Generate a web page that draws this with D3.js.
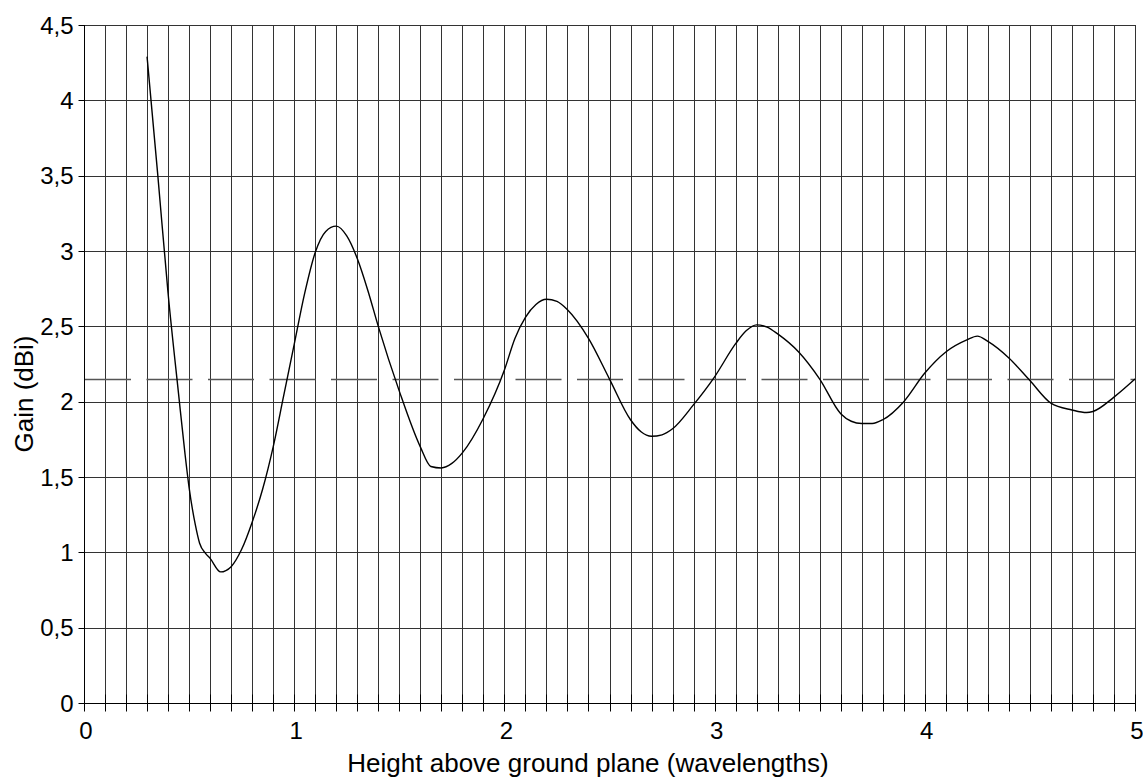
<!DOCTYPE html>
<html>
<head>
<meta charset="utf-8">
<script src="https://cdn.jsdelivr.net/npm/d3@7"></script>
<style>
html,body{margin:0;padding:0;background:#fff;}
svg{display:block;}
text{font-family:"Liberation Sans",Arial,sans-serif;fill:#000;}
</style>
</head>
<body>
<svg id="chart" width="1143" height="778"></svg>
<script>
// Data: height above ground plane (wavelengths) vs gain (dBi)
const heights = [0.30,0.35,0.40,0.45,0.48,0.50,0.53,0.55,0.58,0.60,0.65,0.70,0.75,0.80,0.85,0.90,0.95,1.00,1.05,1.10,1.15,1.20,1.25,1.30,1.35,1.40,1.50,1.60,1.65,1.70,1.75,1.80,1.90,2.00,2.05,2.10,2.15,2.20,2.25,2.30,2.40,2.50,2.60,2.65,2.70,2.75,2.80,2.90,3.00,3.10,3.15,3.20,3.25,3.30,3.40,3.50,3.60,3.65,3.70,3.75,3.80,3.90,4.00,4.10,4.20,4.25,4.30,4.40,4.50,4.60,4.70,4.77,4.80,4.90,5.00];
const gains   = [4.29,3.52,2.72,2.05,1.66,1.43,1.18,1.06,0.99,0.96,0.87,0.905,1.02,1.20,1.42,1.70,2.04,2.38,2.72,2.99,3.13,3.165,3.10,2.95,2.74,2.50,2.07,1.70,1.57,1.56,1.59,1.66,1.89,2.21,2.42,2.56,2.645,2.68,2.665,2.61,2.42,2.15,1.88,1.80,1.77,1.78,1.82,1.98,2.165,2.385,2.47,2.51,2.495,2.45,2.33,2.15,1.92,1.87,1.855,1.855,1.88,2.00,2.19,2.33,2.41,2.435,2.40,2.29,2.14,1.99,1.945,1.928,1.935,2.03,2.15];
const referenceGain = 2.15; // dashed reference line (dipole)
const xMajorTicks = [0,1,2,3,4,5];
const xMinorTicks = d3.range(0, 51).map(i => i / 10);
const yTicks = [0,0.5,1,1.5,2,2.5,3,3.5,4,4.5];
const xTitle = "Height above ground plane (wavelengths)";
const yTitle = "Gain (dBi)";

const svg = d3.select("#chart");
const L = 84, R = 1135, T = 25, B = 703;
const x = d3.scaleLinear().domain([0,5]).range([L,R]);
const y = d3.scaleLinear().domain([0,4.5]).range([B,T]);
const locale = d3.formatLocale({decimal:",", thousands:".", grouping:[3], currency:["","€"]});
const fmt = v => locale.format("~g")(v);

// vertical grid lines every 0.1
svg.append("g").selectAll("line").data(xMinorTicks.filter(d => d > 0)).join("line")
  .attr("x1", d => Math.round(x(d)) + 0.5).attr("x2", d => Math.round(x(d)) + 0.5)
  .attr("y1", T).attr("y2", B)
  .attr("stroke", "#333").attr("stroke-width", 1);

// horizontal grid lines
svg.append("g").selectAll("line").data(yTicks.filter(d => d > 0)).join("line")
  .attr("x1", L).attr("x2", R)
  .attr("y1", d => Math.round(y(d)) + 0.5).attr("y2", d => Math.round(y(d)) + 0.5)
  .attr("stroke", "#333").attr("stroke-width", 1);

// dashed reference line
svg.append("line")
  .attr("x1", L + 1).attr("x2", R)
  .attr("y1", Math.round(y(referenceGain)) + 0.5).attr("y2", Math.round(y(referenceGain)) + 0.5)
  .attr("stroke", "#555").attr("stroke-width", 1.3)
  .attr("stroke-dasharray", "46,15.5");

// x axis with minor ticks crossing the axis
const xAxisG = svg.append("g").attr("transform", `translate(0,${Math.round(B)+0.5})`);
xAxisG.append("line").attr("x1", L).attr("x2", R).attr("stroke", "#000");
xAxisG.selectAll("line.t").data(xMinorTicks).join("line").attr("class","t")
  .attr("x1", d => Math.round(x(d)) + 0.5).attr("x2", d => Math.round(x(d)) + 0.5)
  .attr("y1", -9).attr("y2", 8).attr("stroke", "#000");
xAxisG.selectAll("text").data(xMajorTicks).join("text")
  .attr("x", d => x(d) + 2).attr("y", 35)
  .attr("text-anchor", "middle").attr("font-size", 24)
  .text(d => fmt(d));

// y axis
const yAxisG = svg.append("g").attr("transform", `translate(${Math.round(L)+0.5},0)`);
yAxisG.append("line").attr("y1", T).attr("y2", B).attr("stroke", "#000");
yAxisG.selectAll("line.t").data(yTicks).join("line").attr("class","t")
  .attr("x1", -6).attr("x2", 0)
  .attr("y1", d => Math.round(y(d)) + 0.5).attr("y2", d => Math.round(y(d)) + 0.5)
  .attr("stroke", "#000");
yAxisG.selectAll("text").data(yTicks).join("text")
  .attr("x", -11).attr("y", d => y(d)).attr("dy", "0.36em")
  .attr("text-anchor", "end").attr("font-size", 24)
  .text(d => fmt(d));

// curve
const pts = heights.map((h,i) => [h, gains[i]]);
const line = d3.line().x(d => x(d[0])).y(d => y(d[1])).curve(d3.curveMonotoneX);
svg.append("path").datum(pts)
  .attr("d", line).attr("fill", "none")
  .attr("stroke", "#000").attr("stroke-width", 1.4);

// titles
svg.append("text").attr("x", 588).attr("y", 772)
  .attr("text-anchor", "middle").attr("font-size", 26).text(xTitle);
svg.append("text").attr("transform", "translate(33,394) rotate(-90)")
  .attr("text-anchor", "middle").attr("font-size", 26).text(yTitle);
</script>
</body>
</html>
